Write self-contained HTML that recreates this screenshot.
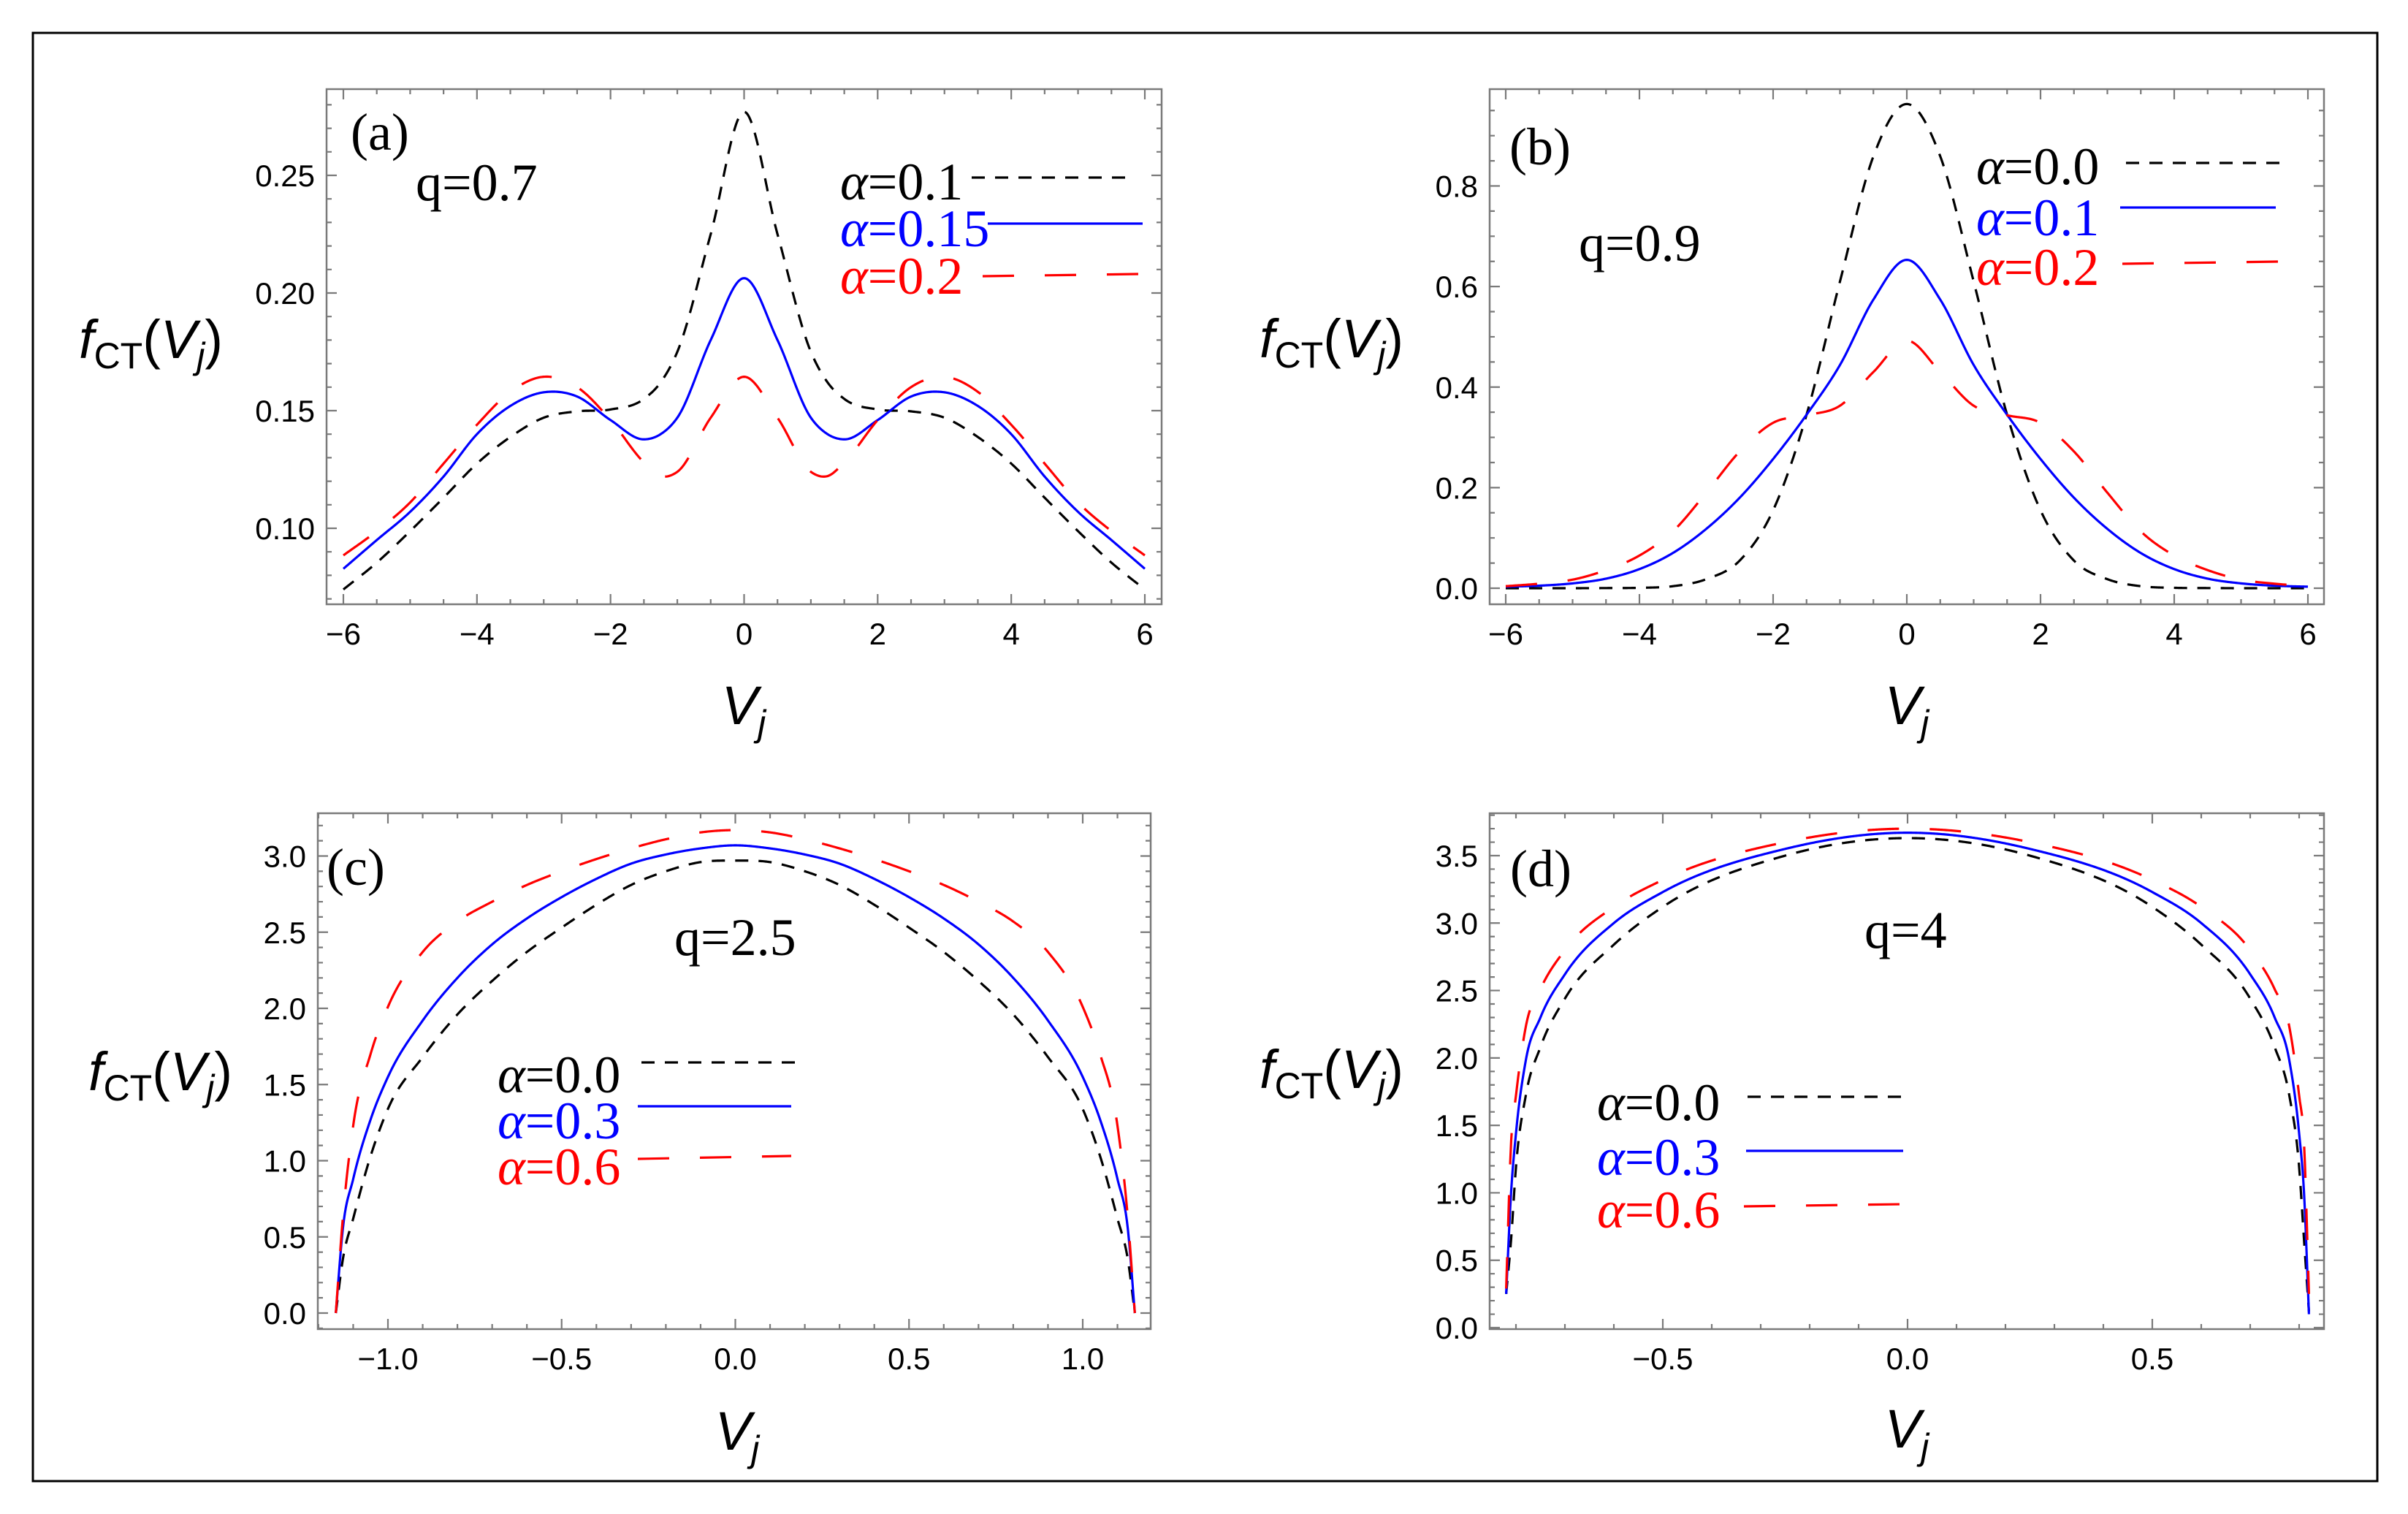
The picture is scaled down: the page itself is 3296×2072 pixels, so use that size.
<!DOCTYPE html>
<html><head><meta charset="utf-8"><style>
html,body{margin:0;padding:0;background:#fff;}
svg{display:block;}
.tk{font-family:"Liberation Sans",sans-serif;font-size:42px;fill:#000;}
.lg{font-family:"Liberation Serif",serif;font-size:72px;}
.ax{font-family:"Liberation Sans",sans-serif;font-size:74px;fill:#000;}
</style></head><body>
<svg id="fig" width="3296" height="2072" viewBox="0 0 3296 2072" xmlns="http://www.w3.org/2000/svg">
<rect x="0" y="0" width="3296" height="2072" fill="#fff"/>
<rect x="45" y="45" width="3209" height="1982" fill="none" stroke="#000" stroke-width="3"/>
</svg>
<script>
// ---- Panel (a) data ----
const aX = [-6,-5.5,-5,-4.5,-4,-3.5,-3,-2.5,-2,-1.5,-1.25,-1,-0.5,0,0.5,1,1.25,1.5,2,2.5,3,3.5,4,4.5,5,5.5,6];
const aBlack = [0.074,0.0854,0.0988,0.113,0.1275,0.1388,0.147,0.1497,0.1505,0.155,0.162,0.175,0.225,0.277,0.225,0.175,0.162,0.155,0.1505,0.1497,0.147,0.1388,0.1275,0.113,0.0988,0.0854,0.074];
const aBlue = [0.0828,0.095,0.107,0.122,0.140,0.152,0.1578,0.156,0.146,0.1378,0.140,0.147,0.180,0.2063,0.180,0.147,0.140,0.1378,0.146,0.156,0.1578,0.152,0.140,0.122,0.107,0.095,0.0828];
const aRed = [0.0885,0.0988,0.111,0.1275,0.144,0.158,0.1644,0.160,0.146,0.128,0.1222,0.124,0.147,0.1644,0.147,0.124,0.1222,0.128,0.146,0.160,0.1644,0.158,0.144,0.1275,0.111,0.0988,0.0885];
const aXTicks = ["−6","−4","−2","0","2","4","6"];
const aXTickVals = [-6,-4,-2,0,2,4,6];
const aYTicks = ["0.10","0.15","0.20","0.25"];
const aYTickVals = [0.10,0.15,0.20,0.25];
// ---- Panel (b) data ----
const bX = [-6,-5.5,-5,-4.5,-4,-3.5,-3,-2.5,-2,-1.5,-1,-0.5,0,0.5,1,1.5,2,2.5,3,3.5,4,4.5,5,5.5,6];
const bBlack = [0,0,0,0.0003,0.0008,0.004,0.018,0.055,0.155,0.345,0.61,0.859,0.963,0.859,0.61,0.345,0.155,0.055,0.018,0.004,0.0008,0.0003,0,0,0];
const bBlue = [0.003,0.005,0.0096,0.019,0.038,0.070,0.118,0.180,0.257,0.345,0.444,0.574,0.653,0.574,0.444,0.345,0.257,0.180,0.118,0.070,0.038,0.019,0.0096,0.005,0.003];
const bRed = [0.004,0.009,0.017,0.036,0.065,0.113,0.19,0.272,0.329,0.344,0.363,0.43,0.4925,0.43,0.363,0.344,0.329,0.272,0.19,0.113,0.065,0.036,0.017,0.009,0.004];
const bXTicks = ["−6","−4","−2","0","2","4","6"];
const bXTickVals = [-6,-4,-2,0,2,4,6];
const bYTicks = ["0.0","0.2","0.4","0.6","0.8"];
const bYTickVals = [0,0.2,0.4,0.6,0.8];
// ---- Panel (c) data ----
const cX = [-1.15,-1.13,-1.1,-1.05,-1.0,-0.9,-0.8,-0.7,-0.6,-0.5,-0.4,-0.3,-0.2,-0.1,0,0.1,0.2,0.3,0.4,0.5,0.6,0.7,0.8,0.9,1.0,1.05,1.1,1.13,1.15];
const cBlack = [0,0.35,0.62,1.03,1.34,1.68,1.96,2.18,2.37,2.53,2.68,2.81,2.90,2.96,2.97,2.96,2.90,2.81,2.68,2.53,2.37,2.18,1.96,1.68,1.34,1.03,0.62,0.35,0];
const cBlue = [0,0.55,0.88,1.27,1.55,1.92,2.20,2.42,2.59,2.73,2.85,2.95,3.01,3.05,3.07,3.05,3.01,2.95,2.85,2.73,2.59,2.42,2.20,1.92,1.55,1.27,0.88,0.55,0];
const cRed = [0,0.62,1.23,1.70,2.01,2.37,2.57,2.70,2.81,2.90,2.98,3.05,3.11,3.155,3.17,3.155,3.11,3.05,2.98,2.90,2.81,2.70,2.57,2.37,2.01,1.70,1.23,0.62,0];
const cXTicks = ["−1.0","−0.5","0.0","0.5","1.0"];
const cXTickVals = [-1,-0.5,0,0.5,1];
const cYTicks = ["0.0","0.5","1.0","1.5","2.0","2.5","3.0"];
const cYTickVals = [0,0.5,1,1.5,2,2.5,3];
// ---- Panel (d) data ----
const dX = [-0.82,-0.81,-0.8,-0.78,-0.75,-0.7,-0.6,-0.5,-0.25,0,0.25,0.5,0.6,0.7,0.75,0.78,0.8,0.81,0.82];
const dBlack = [0.25,0.65,1.19,1.72,2.08,2.44,2.84,3.12,3.50,3.63,3.50,3.12,2.84,2.44,2.08,1.72,1.19,0.65,0.12];
const dBlue = [0.25,1.0,1.44,1.98,2.30,2.62,3.00,3.23,3.55,3.67,3.55,3.23,3.00,2.62,2.30,1.98,1.44,1.0,0.1];
const dRed = [0.29,1.37,1.72,2.23,2.51,2.80,3.12,3.32,3.60,3.70,3.60,3.32,3.12,2.80,2.51,2.23,1.72,1.37,0.25];
const dXTicks = ["−0.5","0.0","0.5"];
const dXTickVals = [-0.5,0,0.5];
const dYTicks = ["0.0","0.5","1.0","1.5","2.0","2.5","3.0","3.5"];
const dYTickVals = [0,0.5,1,1.5,2,2.5,3,3.5];

const NS = "http://www.w3.org/2000/svg";
const svg = document.getElementById('fig');
function mk(tag, attrs, parent){const e=document.createElementNS(NS,tag);for(const k in attrs)e.setAttribute(k,attrs[k]);(parent||svg).appendChild(e);return e;}

function smooth(xs, ys){
  const n=xs.length, d=[], m=new Array(n);
  for(let i=0;i<n-1;i++) d.push((ys[i+1]-ys[i])/(xs[i+1]-xs[i]));
  m[0]=d[0]; m[n-1]=d[n-2];
  for(let i=1;i<n-1;i++){ const h0=xs[i]-xs[i-1],h1=xs[i+1]-xs[i]; m[i]=(h1*d[i-1]+h0*d[i])/(h0+h1); }
  return function(x){
    let i=0; while(i<n-2 && x>xs[i+1]) i++;
    const h=xs[i+1]-xs[i], t=(x-xs[i])/h, t2=t*t, t3=t2*t;
    return (2*t3-3*t2+1)*ys[i]+(t3-2*t2+t)*h*m[i]+(-2*t3+3*t2)*ys[i+1]+(t3-t2)*h*m[i+1];
  };
}

function panel(id, cfg){
  const g=mk('g',{});
  
  
  const sx=v=>cfg.xp[0]+(v-cfg.xv[0])*(cfg.xp[1]-cfg.xp[0])/(cfg.xv[1]-cfg.xv[0]);
  const sy=v=>cfg.yp[0]+(v-cfg.yv[0])*(cfg.yp[1]-cfg.yp[0])/(cfg.yv[1]-cfg.yv[0]);
  const invx=p=>cfg.xv[0]+(p-cfg.xp[0])*(cfg.xv[1]-cfg.xv[0])/(cfg.xp[1]-cfg.xp[0]);
  const invy=p=>cfg.yv[0]+(p-cfg.yp[0])*(cfg.yv[1]-cfg.yv[0])/(cfg.yp[1]-cfg.yp[0]);
  const clip=mk('clipPath',{id:'clip-'+id},g);
  mk('rect',{x:cfg.L,y:cfg.T,width:cfg.R-cfg.L,height:cfg.B-cfg.T},clip);
  const styles={black:{c:'#000',d:'18 14',w:3.2},blue:{c:'#0000ff',d:'none',w:3.2},red:{c:'#ff0000',d:'43 42',w:3.2}};
  cfg.series.forEach(s=>{
    const f=smooth(s.x,s.y); const x0=s.x[0], x1=s.x[s.x.length-1];
    let pts=[]; const N=800;
    for(let k=0;k<=N;k++){const xv=x0+(x1-x0)*k/N; pts.push(sx(xv).toFixed(2)+','+sy(f(xv)).toFixed(2));}
    const st=styles[s.style];
    const p=mk('path',{d:'M'+pts.join('L'),fill:'none',stroke:st.c,'stroke-width':st.w,'stroke-dasharray':st.d,'clip-path':'url(#clip-'+id+')'},g);
    
    
  });
  const fr=mk('rect',{x:cfg.L,y:cfg.T,width:cfg.R-cfg.L,height:cfg.B-cfg.T,fill:'none',stroke:'#7a7a7a','stroke-width':2.5},g);
  
  
  let tp='';
  const xs=Math.ceil(invx(cfg.L)/cfg.xmin-1e-6), xe=Math.floor(invx(cfg.R)/cfg.xmin+1e-6);
  for(let k=xs;k<=xe;k++){const v=k*cfg.xmin;const major=Math.abs(v/cfg.xmaj-Math.round(v/cfg.xmaj))<1e-6;const L=major?14:7;const X=sx(v);
    tp+=`M${X},${cfg.B}V${cfg.B-L}M${X},${cfg.T}V${cfg.T+L}`;}
  const ys0=Math.ceil(Math.min(invy(cfg.B),invy(cfg.T))/cfg.ymin-1e-6), ye=Math.floor(Math.max(invy(cfg.B),invy(cfg.T))/cfg.ymin+1e-6);
  for(let k=ys0;k<=ye;k++){const v=k*cfg.ymin;const major=Math.abs(v/cfg.ymaj-Math.round(v/cfg.ymaj))<1e-6;const L=major?14:7;const Y=sy(v);
    tp+=`M${cfg.L},${Y}H${cfg.L+L}M${cfg.R},${Y}H${cfg.R-L}`;}
  const tk=mk('path',{d:tp,stroke:'#7a7a7a','stroke-width':2.2,fill:'none'},g);
  
  
  cfg.xtv.forEach((v,i)=>{const t=mk('text',{x:sx(v),y:cfg.xlabY,'text-anchor':'middle',class:'tk'},g);t.textContent=cfg.xtl[i];
    
    });
  cfg.ytv.forEach((v,i)=>{const t=mk('text',{x:cfg.L-16,y:sy(v)+15,'text-anchor':'end',class:'tk'},g);t.textContent=cfg.ytl[i];
    
    });
}

const cols={black:'#000',blue:'#0000ff',red:'#ff0000'};
panel('a',{L:447,R:1590,T:122,B:827,xv:[-6,6],xp:[470,1567],yv:[0.10,0.25],yp:[723,240],xmin:0.5,xmaj:2,ymin:0.01,ymaj:0.05,xlabY:882,
  xtv:aXTickVals,xtl:aXTicks,ytv:aYTickVals,ytl:aYTicks,
  series:[{name:'alpha-0.1',style:'black',x:aX,y:aBlack},{name:'alpha-0.15',style:'blue',x:aX,y:aBlue},{name:'alpha-0.2',style:'red',x:aX,y:aRed}]});
panel('b',{L:2039,R:3181,T:122,B:827,xv:[-6,6],xp:[2061,3159],yv:[0,0.8],yp:[805,254.5],xmin:0.5,xmaj:2,ymin:0.05,ymaj:0.2,xlabY:882,
  xtv:bXTickVals,xtl:bXTicks,ytv:bYTickVals,ytl:bYTicks,
  series:[{name:'alpha-0.0',style:'black',x:bX,y:bBlack},{name:'alpha-0.1',style:'blue',x:bX,y:bBlue},{name:'alpha-0.2',style:'red',x:bX,y:bRed}]});
panel('c',{L:435,R:1575,T:1113,B:1819,xv:[-1,1],xp:[531,1482],yv:[0,3],yp:[1797,1171.5],xmin:0.1,xmaj:0.5,ymin:0.1,ymaj:0.5,xlabY:1874,
  xtv:cXTickVals,xtl:cXTicks,ytv:cYTickVals,ytl:cYTicks,
  series:[{name:'alpha-0.0',style:'black',x:cX,y:cBlack},{name:'alpha-0.3',style:'blue',x:cX,y:cBlue},{name:'alpha-0.6',style:'red',x:cX,y:cRed}]});
panel('d',{L:2039,R:3181,T:1113,B:1819,xv:[-0.5,0.5],xp:[2276,2946],yv:[0,3.5],yp:[1817,1171],xmin:0.1,xmaj:0.5,ymin:0.1,ymaj:0.5,xlabY:1874,
  xtv:dXTickVals,xtl:dXTicks,ytv:dYTickVals,ytl:dYTicks,
  series:[{name:'alpha-0.0',style:'black',x:dX,y:dBlack},{name:'alpha-0.3',style:'blue',x:dX,y:dBlue},{name:'alpha-0.6',style:'red',x:dX,y:dRed}]});

function legend(id,x,entries){
  entries.forEach(e=>{
    const t=mk('text',{x:x,y:e.by,class:'lg',fill:cols[e.s]});
    t.innerHTML='<tspan font-style="italic">α</tspan>='+e.v;
    
    
    const st=e.s==='black'?'18 14':(e.s==='red'?'43 42':'none');
    const l=mk('line',{x1:e.x1,x2:e.x2,y1:e.ly,y2:e.ly2||e.ly,stroke:cols[e.s],'stroke-width':3.2,'stroke-dasharray':st});
    
    
  });
}
legend('a',1150,[{s:'black',v:'0.1',by:273,x1:1330,x2:1543,ly:243},{s:'blue',v:'0.15',by:337,x1:1352,x2:1564,ly:306},{s:'red',v:'0.2',by:402,x1:1345,x2:1560,ly:378,ly2:375}]);
legend('b',2705,[{s:'black',v:'0.0',by:252,x1:2910,x2:3125,ly:223},{s:'blue',v:'0.1',by:322,x1:2902,x2:3115,ly:284},{s:'red',v:'0.2',by:390,x1:2905,x2:3120,ly:361,ly2:358}]);
legend('c',681,[{s:'black',v:'0.0',by:1495,x1:878,x2:1094,ly:1454},{s:'blue',v:'0.3',by:1558,x1:873,x2:1083,ly:1514},{s:'red',v:'0.6',by:1621,x1:873,x2:1083,ly:1586,ly2:1582}]);
legend('d',2186,[{s:'black',v:'0.0',by:1533,x1:2392,x2:2607,ly:1501},{s:'blue',v:'0.3',by:1608,x1:2390,x2:2605,ly:1575},{s:'red',v:'0.6',by:1680,x1:2387,x2:2603,ly:1651,ly2:1648}]);

[['(a)',480,205],['(b)',2066,225],['(c)',447,1211],['(d)',2067,1213]].forEach(a=>{
  const t=mk('text',{x:a[1],y:a[2],class:'lg',fill:'#000','font-size':'68'});t.textContent=a[0];
  
  
});
[['q=0.7',569,274],['q=0.9',2161,357],['q=2.5',923,1307],['q=4',2552,1297]].forEach(a=>{
  const t=mk('text',{x:a[1],y:a[2],class:'lg',fill:'#000'});t.textContent=a[0];
  
  
});
[[108,490],[1724,489],[121,1492],[1724,1489]].forEach(p=>{
  const t=mk('text',{x:p[0],y:p[1],class:'ax'});
  t.innerHTML='<tspan font-style="italic">f</tspan><tspan font-size="50" dy="14">CT</tspan><tspan dy="-14">(</tspan><tspan font-style="italic">V</tspan><tspan font-style="italic" font-size="50" dy="14">j</tspan><tspan dy="-14">)</tspan>';
  
  
});
[[1018,991],[2610,991],[1009,1984],[2610,1981]].forEach(p=>{
  const t=mk('text',{x:p[0],y:p[1],class:'ax','text-anchor':'middle'});
  t.innerHTML='<tspan font-style="italic">V</tspan><tspan font-style="italic" font-size="50" dy="16">j</tspan>';
  
  
});
</script>
</body></html>
